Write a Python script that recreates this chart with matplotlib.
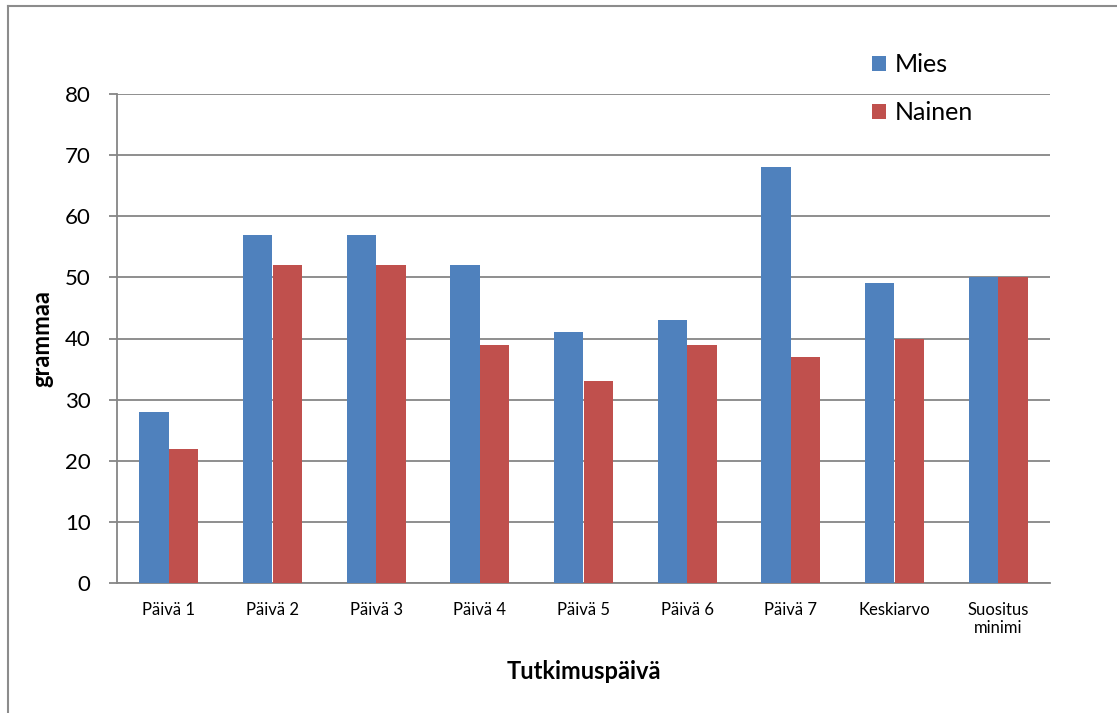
import matplotlib
matplotlib.use("Agg")
import matplotlib.pyplot as plt
import numpy as np
from matplotlib.lines import Line2D

categories = ["Päivä 1", "Päivä 2", "Päivä 3", "Päivä 4", "Päivä 5",
              "Päivä 6", "Päivä 7", "Keskiarvo", "Suositus\nminimi"]
mies = [28, 57, 57, 52, 41, 43, 68, 49, 50]
nainen = [22, 52, 52, 39, 33, 39, 37, 40, 50]
yticks = [0, 10, 20, 30, 40, 50, 60, 70, 80]

plt.rcParams['font.family'] = ['Lato', 'DejaVu Sans']

W, H = 1117, 713
fig = plt.figure(figsize=(W / 100, H / 100), dpi=100)
ax = fig.add_axes([117 / W, 1 - 583 / H, (1050 - 117) / W, (583 - 94) / H])

grid_c = "#868686"
x = np.arange(len(categories))
bw = 1 / 3.5
ax.bar(x - bw / 2, mies, width=bw, color="#4F81BD", label="Mies", zorder=3)
ax.bar(x + bw / 2, nainen, width=bw, color="#C0504D", label="Nainen", zorder=3)

ax.set_xlim(-0.5, len(categories) - 0.5)
ax.set_ylim(0, 80)
ax.set_yticks(yticks)
ax.set_yticklabels([str(v) for v in yticks], fontsize=16)
ax.set_xticks(x)
ax.set_xticklabels(categories, fontsize=12, linespacing=1.15)
ax.tick_params(axis='x', length=0, pad=14)
ax.tick_params(axis='y', length=6, width=1.3, color=grid_c, pad=13, direction='out')
ax.yaxis.grid(True, color=grid_c, linewidth=1.3, zorder=0)
ax.set_axisbelow(True)
for s in ["top", "right"]:
    ax.spines[s].set_visible(False)
for s in ["left", "bottom"]:
    ax.spines[s].set_color(grid_c)
    ax.spines[s].set_linewidth(1.3)

ax.set_ylabel("grammaa", fontsize=17, fontweight='bold', labelpad=8)
ax.set_xlabel("Tutkimuspäivä", fontsize=17, fontweight='bold', labelpad=17)

fig.legend(loc='upper left', bbox_to_anchor=(872 / W, 1 - 53 / H), frameon=False,
           fontsize=18, handlelength=0.55, handleheight=0.55, handletextpad=0.35,
           labelspacing=1.02, borderpad=0, borderaxespad=0)

# outer chart frame (top and left edges visible)
fig.add_artist(Line2D([8 / W, 1.0], [1 - 6 / H, 1 - 6 / H], transform=fig.transFigure,
                      color="#8c8c8c", linewidth=1.5))
fig.add_artist(Line2D([8 / W, 8 / W], [0, 1 - 6 / H], transform=fig.transFigure,
                      color="#8c8c8c", linewidth=1.5))

fig.savefig("out.png", dpi=100)
